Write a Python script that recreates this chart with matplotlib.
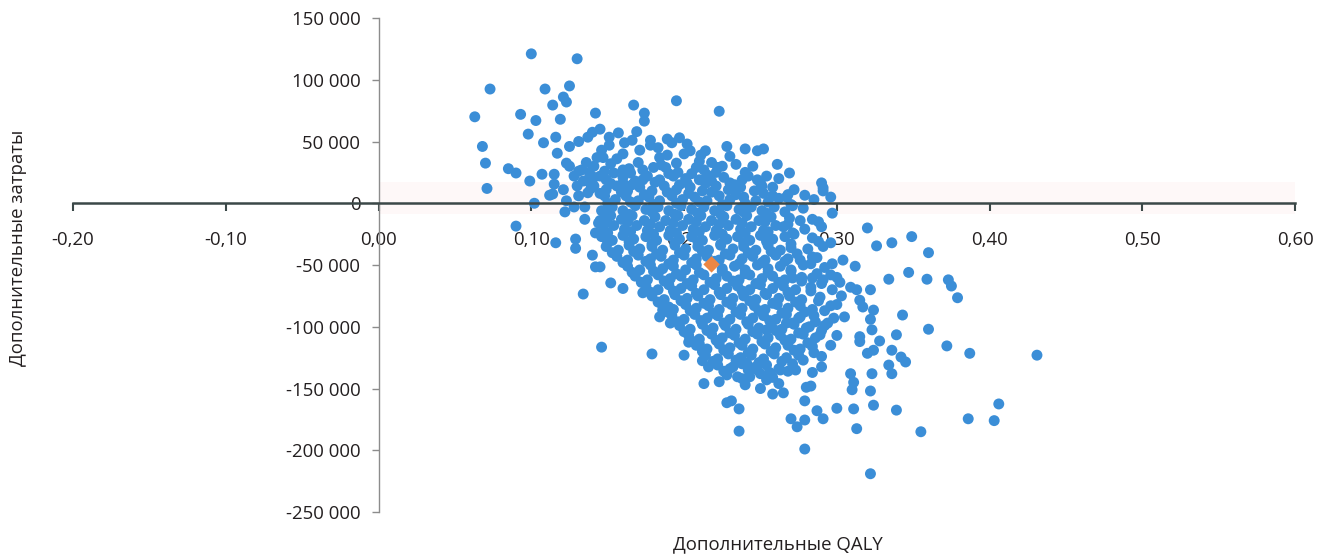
import matplotlib.pyplot as plt
import matplotlib.ticker as mticker

# Дополнительные QALY и дополнительные затраты (тыс. руб.)
upper_tail = [
    (0.100, 121), (0.130, 117), (0.073, 92.5), (0.109, 92.5), (0.125, 95),
    (0.121, 86), (0.123, 82), (0.114, 79.5), (0.142, 73), (0.063, 70),
    (0.093, 72), (0.103, 67), (0.119, 68), (0.098, 56), (0.116, 53.5),
    (0.068, 46), (0.108, 49), (0.125, 46), (0.131, 50), (0.137, 53.5),
    (0.140, 57.5), (0.070, 32.5), (0.085, 28), (0.090, 24.5), (0.099, 18),
    (0.107, 23.5), (0.115, 23.5), (0.115, 15.5), (0.071, 12), (0.117, 40.5),
    (0.123, 32.5), (0.137, 19), (0.143, 37), (0.125, 30), (0.131, 26),
    (0.136, 33), (0.128, 22), (0.138, 25), (0.134, 18), (0.141, 21),
    (0.130, 14), (0.139, 12), (0.167, 79.5), (0.195, 83), (0.223, 74.5),
    (0.174, 73), (0.174, 66.5), (0.145, 60), (0.169, 58), (0.166, 51),
    (0.151, 53.5), (0.151, 47), (0.161, 49), (0.178, 51), (0.178, 47),
    (0.189, 52), (0.197, 53), (0.192, 49), (0.204, 42.5), (0.211, 39),
    (0.214, 42.5), (0.240, 44), (0.248, 42.5), (0.234, 31.5), (0.242, 22),
    (0.147, 37), (0.156, 36), (0.184, 37), (0.189, 39), (0.180, 29),
    (0.195, 32.5), (0.208, 29), (0.221, 25), (0.215, 23), (0.154, 24.5),
    (0.165, 24.5), (0.173, 27), (0.149, 19), (0.160, 16.5), (0.173, 19),
    (0.184, 19), (0.202, 16.5), (0.210, 19), (0.230, 16.5), (0.248, 19),
    (0.252, 44), (0.261, 31.5), (0.269, 24.5), (0.254, 22), (0.250, 16.5),
    (0.258, 13), (0.290, 16.5), (0.291, 12.5),
]

left_fringe = [
    (0.102, 0), (0.090, -18.5), (0.116, -32), (0.129, -29), (0.129, -36.5),
    (0.135, -13), (0.140, -42), (0.142, -51.5), (0.134, -73.5), (0.122, -7),
    (0.128, -3), (0.135, -3), (0.123, 2), (0.131, 6), (0.137, 8.5),
    (0.114, 7.5), (0.112, 6.5), (0.121, 11), (0.142, -24), (0.144, -16),
    (0.152, -64.5), (0.160, -69), (0.145, -51.5), (0.184, -92), (0.186, -86.5),
    (0.190, -84), (0.173, -72.5), (0.191, -97), (0.146, -116.5), (0.179, -122),
    (0.200, -123),
]

core_upper = [
    (0.133, 27), (0.148, 26), (0.164, 28), (0.188, 29), (0.196, 25),
    (0.213, 27), (0.225, 30), (0.240, 25),
    (0.137, 18), (0.145, 22), (0.160, 21), (0.168, 18), (0.176, 22),
    (0.193, 22), (0.201, 20), (0.218, 18), (0.226, 21), (0.238, 19),
    (0.262, 20),
    (0.141, 14), (0.149, 11), (0.156, 14), (0.163, 10), (0.171, 13),
    (0.179, 10), (0.187, 14), (0.195, 11), (0.204, 13), (0.212, 10),
    (0.221, 14), (0.229, 11), (0.237, 13), (0.246, 10), (0.272, 11),
    (0.148, 6), (0.155, 3), (0.162, 6), (0.170, 2), (0.177, 5),
    (0.184, 2), (0.192, 6), (0.199, 3), (0.207, 5), (0.215, 2),
    (0.223, 6), (0.230, 3), (0.239, 5), (0.247, 2), (0.262, 4), (0.285, 3),
    (0.146, -6), (0.153, -3), (0.160, -6), (0.168, -2), (0.175, -5),
    (0.183, -3), (0.190, -6), (0.198, -2), (0.205, -5), (0.213, -3),
    (0.220, -6), (0.228, -2), (0.236, -5), (0.244, -3), (0.251, -6),
    (0.259, -3), (0.278, -4),
]

core_middle = [
    (0.145, -14), (0.152, -10), (0.159, -13), (0.166, -10), (0.174, -14),
    (0.181, -11), (0.188, -14), (0.196, -10), (0.203, -13), (0.211, -10),
    (0.218, -14), (0.226, -11), (0.234, -13), (0.241, -10), (0.249, -14),
    (0.257, -11), (0.269, -12),
    (0.147, -22), (0.154, -18), (0.161, -21), (0.169, -18), (0.176, -22),
    (0.184, -19), (0.191, -22), (0.199, -18), (0.206, -21), (0.214, -19),
    (0.221, -22), (0.229, -18), (0.237, -21), (0.244, -19), (0.252, -22),
    (0.260, -18), (0.279, -21), (0.290, -19),
    (0.146, -27), (0.153, -30), (0.160, -26), (0.167, -29), (0.175, -27),
    (0.182, -30), (0.190, -26), (0.197, -29), (0.205, -27), (0.212, -30),
    (0.220, -26), (0.228, -29), (0.235, -27), (0.243, -30), (0.250, -26),
    (0.258, -29), (0.266, -27), (0.284, -28),
    (0.149, -35), (0.157, -38), (0.164, -34), (0.171, -37), (0.179, -35),
    (0.186, -38), (0.194, -34), (0.201, -37), (0.209, -35), (0.216, -38),
    (0.224, -34), (0.232, -37), (0.239, -35), (0.247, -38), (0.255, -34),
    (0.270, -36), (0.281, -37), (0.291, -35),
    (0.156, -43), (0.163, -46), (0.170, -42), (0.178, -45), (0.185, -43),
    (0.193, -46), (0.200, -42), (0.208, -45), (0.215, -43), (0.223, -46),
    (0.230, -42), (0.238, -45), (0.245, -43), (0.253, -46), (0.260, -42),
    (0.268, -45), (0.287, -44),
    (0.163, -51), (0.171, -54), (0.178, -50), (0.186, -53), (0.193, -51),
    (0.201, -54), (0.208, -50), (0.225, -53), (0.233, -51), (0.240, -54),
    (0.248, -50), (0.255, -53), (0.263, -51), (0.270, -54), (0.278, -50),
    (0.292, -52),
    (0.168, -59), (0.176, -62), (0.183, -58), (0.191, -61), (0.198, -59),
    (0.206, -62), (0.213, -58), (0.221, -61), (0.228, -59), (0.236, -62),
    (0.243, -58), (0.251, -61), (0.258, -59), (0.266, -62), (0.277, -60),
    (0.296, -58),
]

core_lower = [
    (0.175, -67), (0.183, -70), (0.190, -66), (0.198, -69), (0.205, -67),
    (0.213, -70), (0.220, -66), (0.228, -69), (0.235, -67), (0.243, -70),
    (0.250, -66), (0.258, -69), (0.265, -67), (0.273, -70), (0.283, -68),
    (0.297, -70),
    (0.179, -75), (0.187, -78), (0.194, -74), (0.202, -77), (0.209, -75),
    (0.217, -78), (0.224, -74), (0.232, -77), (0.239, -75), (0.247, -78),
    (0.254, -74), (0.262, -77), (0.269, -75), (0.277, -78), (0.289, -76),
    (0.303, -75),
    (0.186, -83), (0.193, -86), (0.201, -82), (0.208, -85), (0.216, -83),
    (0.223, -86), (0.231, -82), (0.238, -85), (0.246, -83), (0.253, -86),
    (0.261, -82), (0.268, -85), (0.276, -83), (0.284, -86),
    (0.192, -91), (0.200, -94), (0.207, -90), (0.215, -93), (0.222, -91),
    (0.230, -94), (0.237, -90), (0.245, -93), (0.252, -91), (0.260, -94),
    (0.267, -90), (0.275, -93), (0.285, -91), (0.298, -93),
    (0.197, -99), (0.204, -102), (0.212, -98), (0.219, -101), (0.227, -99),
    (0.234, -102), (0.242, -98), (0.249, -101), (0.257, -99), (0.264, -102),
    (0.272, -98), (0.280, -101), (0.292, -99),
    (0.203, -107), (0.210, -110), (0.218, -106), (0.225, -109), (0.233, -107),
    (0.240, -110), (0.248, -106), (0.255, -109), (0.263, -107), (0.270, -110),
    (0.278, -106), (0.286, -109), (0.300, -107),
    (0.208, -115), (0.215, -118), (0.223, -114), (0.230, -117), (0.238, -115),
    (0.245, -118), (0.253, -114), (0.260, -117), (0.268, -115), (0.276, -118),
    (0.284, -116), (0.296, -115),
    (0.214, -123), (0.222, -126), (0.229, -122), (0.237, -125), (0.244, -123),
    (0.252, -126), (0.259, -122), (0.267, -125), (0.275, -123), (0.290, -124),
    (0.222, -131), (0.230, -134), (0.238, -130), (0.246, -133), (0.254, -131),
    (0.262, -134), (0.271, -130),
    (0.228, -139), (0.238, -142), (0.250, -138), (0.258, -141),
    (0.240, -147), (0.250, -150), (0.262, -146),
]

core_fill = [
    (0.141, 30), (0.152, 32), (0.160, 40), (0.170, 33), (0.185, 31),
    (0.200, 40), (0.218, 33), (0.230, 38), (0.171, 43), (0.205, 24),
    (0.190, 24), (0.160, 27), (0.222, 29), (0.245, 30), (0.146, 43),
    (0.157, 57), (0.183, 45), (0.202, 48), (0.210, 34), (0.228, 46),
    (0.152, 16), (0.166, 15), (0.181, 17), (0.197, 15), (0.214, 16),
    (0.233, 15), (0.251, 14),
    (0.145, 8), (0.159, 9), (0.174, 7), (0.189, 9), (0.203, 8),
    (0.218, 9), (0.234, 7), (0.252, 8), (0.268, 7),
    (0.150, 0), (0.165, 1), (0.180, -1), (0.195, 0), (0.210, 1),
    (0.225, -1), (0.240, 0), (0.255, 1), (0.270, -1),
    (0.149, -8), (0.164, -9), (0.179, -7), (0.194, -9), (0.209, -8),
    (0.224, -9), (0.239, -7), (0.254, -8), (0.266, -7),
    (0.149, -16), (0.163, -15), (0.178, -17), (0.193, -16), (0.208, -15),
    (0.223, -17), (0.238, -16), (0.253, -15), (0.268, -17),
    (0.150, -24), (0.165, -23), (0.180, -25), (0.195, -24), (0.210, -23),
    (0.225, -25), (0.240, -24), (0.255, -23), (0.272, -25),
    (0.150, -32), (0.164, -31), (0.179, -33), (0.194, -32), (0.209, -31),
    (0.224, -33), (0.239, -32), (0.254, -31), (0.270, -33), (0.288, -31),
    (0.153, -40), (0.167, -39), (0.182, -41), (0.197, -40), (0.212, -39),
    (0.227, -41), (0.242, -40), (0.257, -39), (0.274, -41),
    (0.160, -48), (0.175, -47), (0.190, -49), (0.205, -48), (0.220, -47),
    (0.236, -49), (0.251, -48), (0.266, -47), (0.283, -49),
    (0.166, -56), (0.180, -55), (0.195, -57), (0.210, -56), (0.225, -55),
    (0.240, -57), (0.255, -56), (0.270, -55), (0.287, -57),
    (0.172, -64), (0.187, -63), (0.202, -65), (0.217, -64), (0.232, -63),
    (0.247, -65), (0.262, -64), (0.277, -63), (0.290, -65),
    (0.178, -72), (0.193, -71), (0.208, -73), (0.223, -72), (0.238, -71),
    (0.253, -73), (0.268, -72), (0.283, -71),
    (0.183, -80), (0.198, -79), (0.213, -81), (0.228, -80), (0.243, -79),
    (0.258, -81), (0.273, -80), (0.288, -79),
    (0.189, -88), (0.204, -87), (0.219, -89), (0.234, -88), (0.249, -87),
    (0.264, -89), (0.279, -88), (0.292, -87),
    (0.196, -96), (0.211, -95), (0.226, -97), (0.241, -96), (0.256, -95),
    (0.271, -97), (0.286, -96),
    (0.200, -104), (0.215, -103), (0.230, -105), (0.245, -104), (0.260, -103),
    (0.275, -105), (0.290, -103),
    (0.206, -112), (0.221, -111), (0.236, -113), (0.251, -112), (0.266, -111),
    (0.281, -113),
    (0.212, -120), (0.227, -119), (0.242, -121), (0.257, -120), (0.272, -119),
    (0.285, -121),
    (0.219, -128), (0.234, -127), (0.249, -129), (0.264, -128), (0.278, -127),
    (0.226, -136), (0.242, -135), (0.256, -137), (0.268, -136),
]

right_fringe = [
    (0.258, 6), (0.267, 5), (0.279, 6.5), (0.291, 10), (0.296, 5),
    (0.271, -2), (0.297, -8), (0.253, -8), (0.265, -19), (0.276, -14),
    (0.284, -13), (0.288, -15), (0.320, -20), (0.349, -27), (0.336, -32),
    (0.326, -34.5), (0.296, -32), (0.271, -24), (0.254, -29.5), (0.263, -38),
    (0.304, -46), (0.297, -49), (0.312, -51), (0.347, -56), (0.334, -61.5),
    (0.322, -70), (0.313, -70), (0.309, -68), (0.276, -46), (0.284, -43.5),
    (0.271, -60.5), (0.284, -60.5), (0.291, -62), (0.300, -60), (0.302, -64),
    (0.315, -78.5), (0.317, -84), (0.324, -86.5), (0.343, -90.5), (0.296, -83),
    (0.300, -82), (0.305, -92), (0.294, -97), (0.322, -94), (0.323, -102.5),
    (0.339, -106.5), (0.315, -108), (0.289, -106.5), (0.282, -100), (0.276, -92),
    (0.267, -97), (0.254, -102.5), (0.360, -40), (0.359, -61.5), (0.373, -62),
    (0.375, -67), (0.379, -76.5), (0.360, -102),
]

lower_tail = [
    (0.372, -115.5), (0.387, -121.5), (0.431, -123), (0.406, -162.5),
    (0.386, -174.5), (0.403, -176), (0.355, -185), (0.322, -219),
    (0.279, -199), (0.313, -182.5), (0.270, -174.5), (0.279, -175.5),
    (0.274, -181), (0.287, -168), (0.291, -174.5), (0.300, -166),
    (0.311, -166.5), (0.324, -163.5), (0.339, -167.5), (0.279, -160),
    (0.258, -154.5), (0.265, -153.5), (0.280, -149), (0.283, -148),
    (0.254, -143), (0.310, -151), (0.322, -152), (0.311, -145),
    (0.309, -138), (0.323, -138), (0.336, -138), (0.334, -131),
    (0.345, -128.5), (0.342, -124.5), (0.336, -119), (0.315, -112),
    (0.328, -111.5), (0.284, -137), (0.290, -132.5), (0.273, -135),
    (0.263, -135), (0.324, -119), (0.320, -121.5), (0.213, -146),
    (0.223, -144.5), (0.228, -161.5), (0.231, -160), (0.236, -166.5),
    (0.236, -184.5), (0.212, -127.5), (0.216, -132.5), (0.203, -112.5),
    (0.210, -114), (0.226, -119), (0.232, -132.5), (0.235, -140.5),
    (0.243, -140.5), (0.241, -129.5), (0.248, -135),
]

mean_qaly = [0.218]
mean_cost = [-49.5]

x_ticks = [-0.2, -0.1, 0.0, 0.1, 0.2, 0.3, 0.4, 0.5, 0.6]
y_ticks = [-250000, -200000, -150000, -100000, -50000, 0, 50000, 100000, 150000]

points = (upper_tail + left_fringe + core_upper + core_middle + core_lower
          + core_fill + right_fringe + lower_tail)
qaly = [p[0] for p in points]
cost = [p[1] * 1000 for p in points]

plt.rcParams["font.family"] = ["Open Sans", "DejaVu Sans"]
text_color = "#231f20"

fig = plt.figure(figsize=(13.27, 5.56), dpi=100)
ax = fig.add_axes([0.055, 0.0791, 0.921, 0.8885])

ax.axhspan(-9000, 17000, xmin=0.25, color="#fef8f8", lw=0, zorder=0)
ax.scatter(qaly, cost, s=62, color="#3b8ed7", edgecolors="none", zorder=2)
ax.scatter(mean_qaly, [c * 1000 for c in mean_cost], marker="D", s=70,
           color="#ec8744", edgecolors="none", zorder=3)

ax.set_xlim(-0.2, 0.6)
ax.set_ylim(-250000, 150000)
ax.set_xticks(x_ticks)
ax.set_yticks(y_ticks)
ax.xaxis.set_major_formatter(mticker.FuncFormatter(
    lambda v, p: f"{v:.2f}".replace(".", ",").replace("-0,00", "0,00")))
ax.yaxis.set_major_formatter(mticker.FuncFormatter(
    lambda v, p: f"{int(round(v)):,}".replace(",", " ")))

for side in ["top", "right"]:
    ax.spines[side].set_visible(False)
ax.spines["left"].set_position(("data", 0))
ax.spines["bottom"].set_position(("data", 0))
ax.spines["left"].set_color("#8c8c8c")
ax.spines["left"].set_linewidth(1.0)
ax.spines["bottom"].set_color("#3b4848")
ax.spines["bottom"].set_linewidth(1.8)
ax.spines["bottom"].set_zorder(4)

ax.tick_params(axis="x", direction="out", length=6, width=1.5, color="#3b4848",
               pad=14, labelsize=13.4, labelcolor=text_color)
ax.tick_params(axis="y", direction="out", length=5, width=1, color="#8c8c8c",
               pad=8, labelsize=13.4, labelcolor=text_color)

fig.text(18 / 1327, 0.555, "Дополнительные затраты", rotation=90,
         ha="center", va="center", fontsize=13.4, color=text_color)
fig.text(778 / 1327, 0.022, "Дополнительные QALY", ha="center", va="center",
         fontsize=13.4, color=text_color)

fig.savefig("out.png", dpi=100)
